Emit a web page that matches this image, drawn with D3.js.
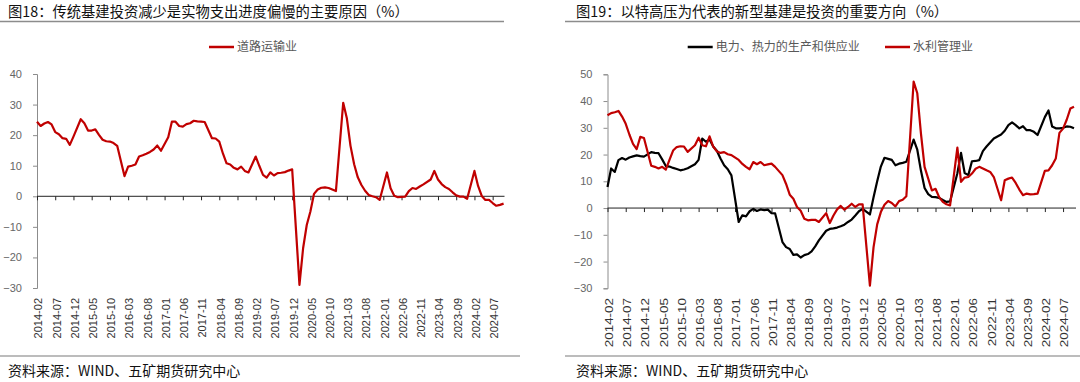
<!DOCTYPE html>
<html><head><meta charset="utf-8">
<script src="https://cdn.jsdelivr.net/npm/d3@7"></script>
<style>
html,body{margin:0;padding:0;background:#fff;}
svg{display:block;}
text{font-family:"Liberation Sans","Noto Sans CJK SC",sans-serif;}
.cjk{font-family:"Noto Sans CJK SC","Liberation Sans",sans-serif;}
</style></head><body>
<svg id="chart" width="1080" height="382"></svg>
<script>
// ---------- data ----------
const months = d3.timeMonth.range(new Date(2014,1,1), new Date(2024,10,1)).map(d3.timeFormat("%Y-%m")); // 2014-02 .. 2024-10
const tickLabels = ["2014-02","2014-07","2014-12","2015-05","2015-10","2016-03","2016-08","2017-01","2017-06","2017-11",
  "2018-04","2018-09","2019-02","2019-07","2019-12","2020-05","2020-10","2021-03","2021-08","2022-01","2022-06",
  "2022-11","2023-04","2023-09","2024-02","2024-07"];
const leftTicks = [40,30,20,10,0,-10,-20,-30];
const rightTicks = [50,40,30,20,10,0,-10,-20,-30];

const roadNames = ["道路运输业"];
const road = [24.4,23.0,23.8,24.3,23.5,21.0,20.3,19.0,18.8,16.8,19.5,null,
  25.2,23.9,21.5,21.5,21.9,20.1,18.5,18.0,17.9,17.4,16.5,null,
  6.6,9.7,10.0,10.4,13.0,13.4,13.9,14.5,15.3,16.6,14.9,null,
  19.3,24.4,24.4,23.0,22.8,23.6,23.9,24.7,24.5,24.4,24.3,null,
  19.0,18.9,17.9,14.0,10.8,10.4,9.3,8.8,9.7,8.3,7.8,null,
  13.0,9.9,7.0,6.1,7.8,6.8,7.6,7.7,7.9,8.4,8.8,null,
  -29.0,-17.0,-9.4,-5.0,0.8,2.2,2.8,2.9,2.7,2.2,1.7,null,
  30.6,25.5,16.5,10.5,6.2,3.7,1.8,0.4,0.0,-0.3,-1.2,null,
  7.8,2.6,0.2,-0.3,-0.2,-0.1,1.7,2.7,2.4,3.2,3.9,null,
  5.5,8.3,5.5,4.0,3.0,2.4,1.3,0.3,-0.1,-0.1,-0.8,null,
  8.3,3.4,0.1,-1.2,-1.2,-2.2,-3.1,-2.8,-2.4];

const rightNames = ["电力、热力的生产和供应业","水利管理业"];
const elec = [7.9,14.8,13.5,17.9,18.7,18.1,18.9,19.3,19.7,19.4,19.2,null,
  20.9,20.6,20.5,18.2,15.7,15.5,15.0,14.6,14.1,14.4,14.9,null,
  16.4,18.0,26.0,24.8,25.6,23.0,21.4,18.5,16.0,14.5,12.2,null,
  -5.2,-2.7,-3.1,-1.2,-0.3,-1.1,-0.5,-0.8,-0.6,-1.9,-2.0,null,
  -12.7,-14.6,-15.3,-17.5,-17.3,-18.5,-17.6,-17.2,-16.2,-14.3,-12.1,null,
  -8.5,-7.8,-7.6,-7.3,-6.8,-6.2,-5.2,-4.3,-2.8,-1.2,-0.3,null,
  -2.4,4.0,10.0,15.5,18.8,18.4,18.0,16.0,16.6,16.9,17.3,null,
  25.6,21.8,14.0,7.5,5.2,4.2,4.1,3.8,3.0,2.3,2.5,null,
  13.0,20.6,13.1,12.3,17.5,17.6,17.9,21.3,23.0,24.5,26.0,null,
  27.5,28.9,31.0,32.0,31.0,29.8,30.6,29.1,29.1,28.5,27.3,null,
  34.0,36.5,30.5,29.8,29.8,30.0,30.5,30.4,29.8];
const water = [34.7,35.5,35.8,36.3,34.2,31.5,27.5,24.0,22.0,26.6,26.2,null,
  15.8,15.4,14.8,15.4,14.4,18.0,21.5,22.8,23.1,23.0,21.0,null,
  23.5,26.3,23.5,23.1,26.8,23.0,21.2,20.6,20.9,20.1,19.8,null,
  18.0,16.5,15.4,14.5,17.2,16.4,17.2,16.0,16.3,16.6,15.4,null,
  12.3,9.0,5.0,3.5,0.4,-1.0,-4.0,-4.6,-4.4,-4.4,-5.2,null,
  -1.9,-5.6,-2.8,-0.5,0.8,-0.6,0.4,1.6,0.4,1.4,1.4,null,
  -29.0,-14.6,-6.1,-1.5,1.2,2.6,1.9,0.6,2.6,3.1,4.4,null,
  47.3,42.9,27.9,15.4,11.0,6.6,7.2,4.1,2.3,1.4,1.0,null,
  22.6,9.8,11.4,11.6,12.9,14.7,15.4,14.8,14.1,13.5,11.6,null,
  2.9,10.4,11.0,11.4,9.4,6.9,4.8,5.4,5.1,5.2,5.4,null,
  13.9,14.1,16.0,18.5,28.1,29.7,33.0,37.2,37.9];

const titles = ["图18：传统基建投资减少是实物支出进度偏慢的主要原因（%）","图19：以特高压为代表的新型基建是投资的重要方向（%）"];
const source = "资料来源：WIND、五矿期货研究中心";

// ---------- drawing ----------
const svg = d3.select("#chart");
const RED = "#C00000", BLACK = "#000000";

function panel(opt){
  const g = svg.append("g");
  // title
  g.append("text").attr("class","cjk").attr("x",opt.titleX).attr("y",17)
    .attr("font-size",14.3).attr("fill","#111").text(opt.title);
  g.append("line").attr("x1",opt.ruleX0).attr("x2",opt.ruleX1).attr("y1",21.5).attr("y2",21.5)
    .attr("stroke","#8c8c8c").attr("stroke-width",1.3);
  // footer
  g.append("line").attr("x1",opt.ruleX0).attr("x2",opt.footX1).attr("y1",356).attr("y2",356)
    .attr("stroke","#a6a6a6").attr("stroke-width",1.5);
  g.append("text").attr("class","cjk").attr("x",opt.titleX).attr("y",376)
    .attr("font-size",14).attr("fill","#111").text(source);

  const x = d3.scalePoint().domain(months).range(opt.xRange);
  const y = d3.scaleLinear().domain(opt.yDomain).range(opt.yRange);

  // y axis
  const ya = g.append("g").attr("transform",`translate(${opt.xRange[0]},0)`)
    .call(d3.axisLeft(y).tickValues(opt.yTicks).tickSize(4).tickPadding(11).tickFormat(d3.format("d")));
  ya.select(".domain").attr("stroke","#8c8c8c");
  ya.selectAll(".tick line").attr("stroke","#8c8c8c");
  ya.selectAll("text").attr("font-size",11).attr("fill","#666").attr("font-family","Liberation Sans");

  // zero axis
  const xa = g.append("g").attr("transform",`translate(0,${y(0)})`)
    .call(d3.axisBottom(x).tickValues(tickLabels).tickSize(4).tickFormat(""));
  xa.select(".domain").attr("d",`M${opt.xRange[0]},0H${opt.zeroEnd}`).attr("stroke","#222");
  xa.selectAll(".tick line").attr("stroke","#222");

  // x labels at bottom
  g.append("g").selectAll("text").data(tickLabels).join("text")
    .attr("transform",d=>`translate(${x(d)+1.5},298) rotate(-90) scale(${opt.labelStretch},1)`)
    .attr("text-anchor","end").attr("dy","0.35em")
    .attr("font-size",11).attr("fill","#333").text(d=>d);

  // lines
  const line = d3.line().x(d=>x(d.m)).y(d=>y(d.v));
  opt.series.forEach(s=>{
    const pts = months.map((m,i)=>({m, v:s.values[i]})).filter(d=>d.v!=null);
    g.append("path").datum(pts).attr("d",line).attr("fill","none")
      .attr("stroke",s.color).attr("stroke-width",2.2).attr("stroke-linejoin","round");
  });

  // legend
  opt.series.forEach(s=>{
    g.append("line").attr("x1",s.lx).attr("x2",s.lx+25).attr("y1",47).attr("y2",47)
      .attr("stroke",s.color).attr("stroke-width",2.5);
    g.append("text").attr("class","cjk").attr("x",s.lx+28).attr("y",47).attr("dy","0.35em")
      .attr("font-size",12).attr("fill","#595959").text(s.name);
  });
}

panel({
  title: titles[0], titleX: 8, ruleX0: 0, ruleX1: 504, footX1: 520,
  xRange: [37, 503.6], zeroEnd: 504.5, yDomain: [-30,40], yRange: [288, 74], yTicks: leftTicks,
  labelStretch: 1,
  series: [{name: roadNames[0], values: road, color: RED, lx: 209}]
});
panel({
  title: titles[1], titleX: 576, ruleX0: 565, ruleX1: 1080, footX1: 1080,
  xRange: [607.5, 1074], zeroEnd: 1076, yDomain: [-30,50], yRange: [288.3, 74.3], yTicks: rightTicks,
  labelStretch: 1.22,
  series: [{name: rightNames[0], values: elec, color: BLACK, lx: 687.7},
           {name: rightNames[1], values: water, color: RED, lx: 885}]
});
</script>
</body></html>
